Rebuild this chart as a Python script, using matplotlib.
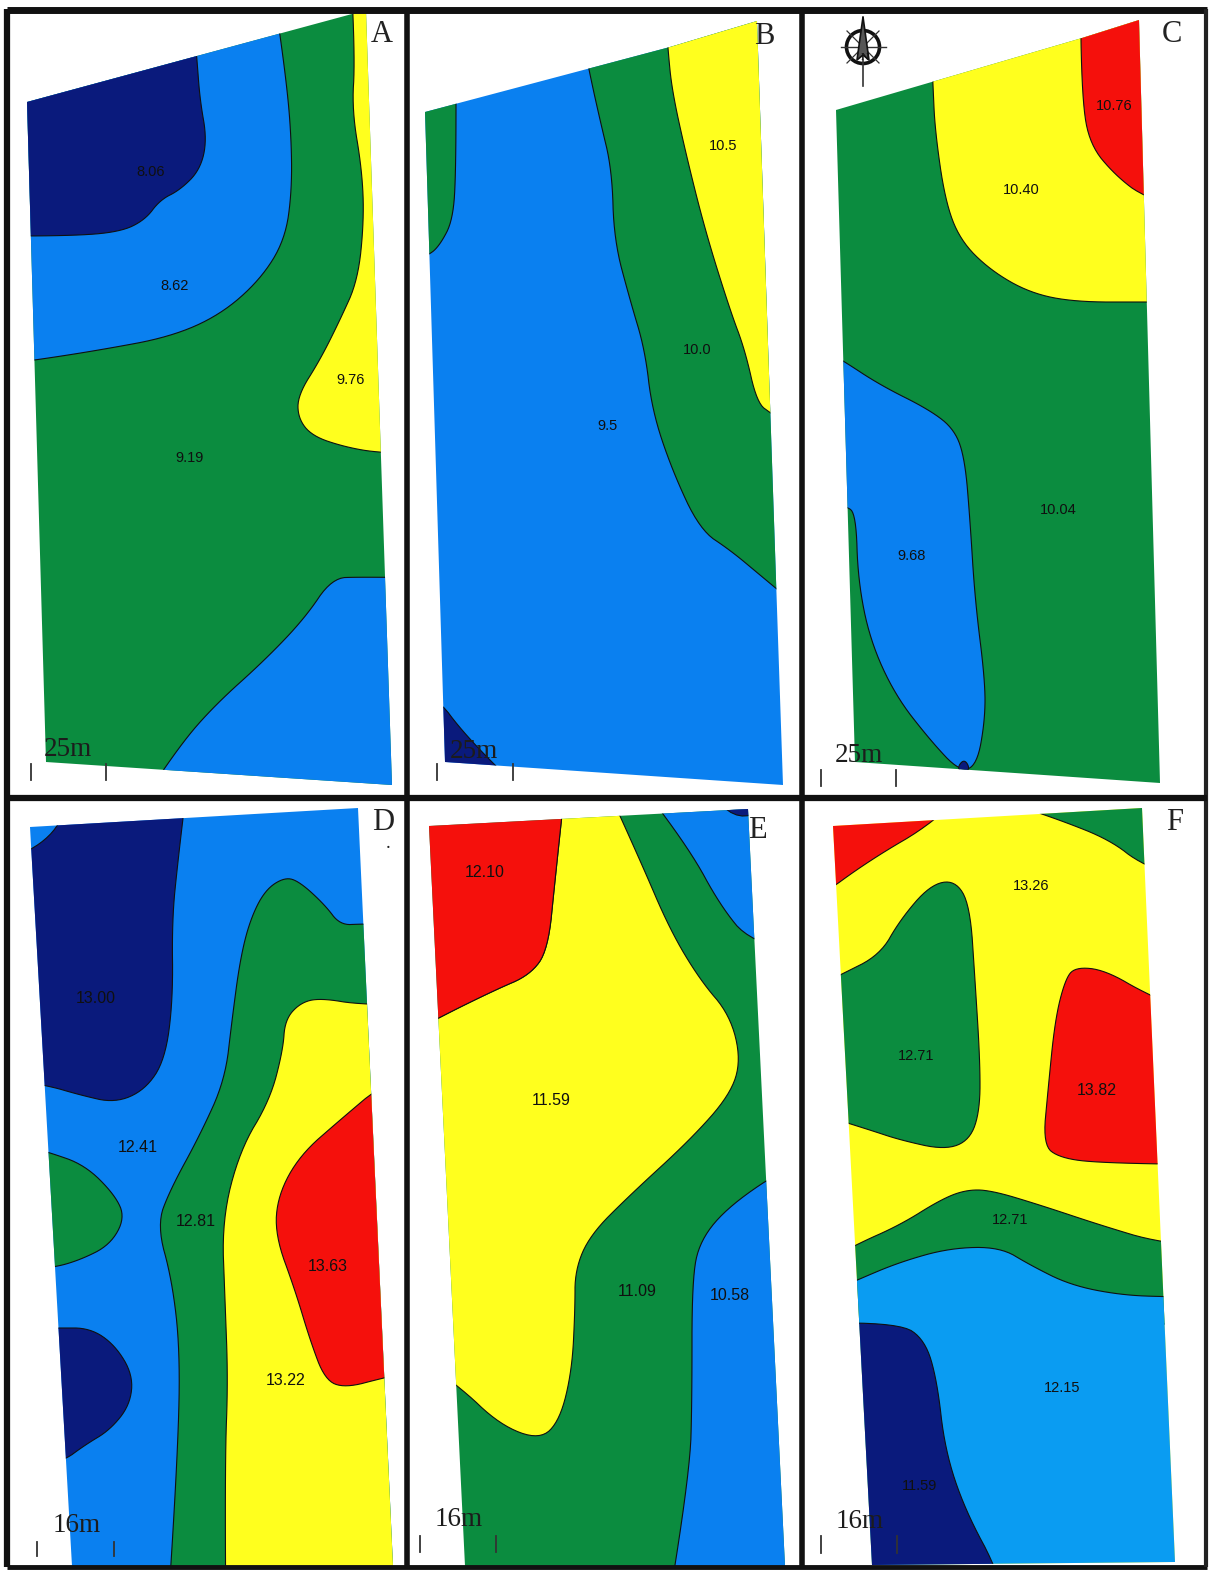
import numpy as np
import matplotlib
matplotlib.use('Agg')
import matplotlib.pyplot as plt
from matplotlib.patches import Polygon, Circle

YEL = '#FFFF1E'
GRN = '#0B8C3F'
BLU = '#0A80F0'
LBL = '#0A9CF2'
NAV = '#0A1A7C'
RED = '#F5100C'

# outlines of the six plots (picture pixels)
out_a = [(27,102),(352,14),(366,11),(392,785),(46,762)]
out_b = [(425,112),(670,47),(757,21),(783,785),(445,762)]
out_c = [(836,110),(1082,38),(1139,20),(1160,783),(855,762)]
out_d = [(30,827),(358,808),(393,1566),(72,1566)]
out_e = [(429,826),(748,809),(785,1566),(465,1566)]
out_f = [(833,826),(1142,808),(1175,1562),(872,1565)]

# zones of panel A
a_navy = [(192,0),(197,60),(200,100),(207,140),(200,170),(180,190),(160,200),(145,220),(120,232),(70,236),(-40,236),(-40,0)]
a_blue = [(272,-20),(285,70),(291,130),(292,190),(285,240),(260,280),(220,315),(170,337),(100,350),(36,360),(-40,370),(-40,-20)]
a_yel = [(350,-50),(355,60),(352,110),(362,170),(364,220),(358,280),(340,320),(320,360),(298,395),(298,418),(312,436),(345,447),(380,453),(460,455),(460,-50)]
a_blue2 = [(130,820),(180,745),(215,705),(265,660),(305,618),(332,578),(360,577),(450,578),(480,880),(130,880)]

# zones of panel B
b_grn1 = [(456,40),(456,170),(453,220),(440,245),(428,256),(380,275),(380,40)]
b_grn2 = [(575,0),(590,75),(600,120),(612,170),(614,240),(630,300),(645,350),(652,410),(672,470),(700,530),(730,550),(760,575),(850,650),(850,0)]
b_yel = [(662,-30),(668,50),(672,90),(685,150),(705,230),(730,310),(745,350),(757,403),(772,414),(850,470),(850,-30)]
b_navy = [(435,695),(465,735),(520,790),(400,800),(400,695)]

# zones of panel C
c_yel = [(929,0),(933,85),(935,130),(945,200),(960,240),(990,270),(1030,293),(1075,302),(1145,302),(1240,302),(1240,0)]
c_red = [(1080,-20),(1082,100),(1090,145),(1115,175),(1145,198),(1240,230),(1240,-20)]
c_blue = [(800,335),(842,360),(880,385),(930,410),(955,430),(965,460),(970,520),(975,600),(985,680),(985,720),(977,765),(960,772),(930,740),(895,695),(870,640),(858,580),(856,515),(846,505),(800,505)]
c_navy = [(957,768),(964,759),(970,768),(964,775)]

# zones of panel D
d_navy1 = [(190,760),(178,860),(172,920),(173,1000),(165,1060),(145,1090),(115,1103),(80,1095),(46,1085),(-20,1075),(-20,865),(32,852),(65,820),(75,760)]
d_grn1 = [(460,922),(362,924),(340,925),(325,905),(300,882),(285,877),(265,890),(250,920),(240,960),(232,1020),(225,1080),(200,1135),(170,1190),(157,1225),(172,1280),(180,1350),(178,1450),(165,1660),(480,1660)]
d_yel = [(226,1660),(225,1460),(228,1380),(225,1300),(222,1220),(240,1150),(270,1100),(283,1050),(285,1020),(300,1003),(320,998),(362,1005),(470,1005),(490,1660)]
d_red = [(385,1082),(340,1120),(300,1155),(278,1195),(275,1235),(295,1290),(310,1340),(325,1380),(345,1388),(383,1378),(460,1360),(460,1060)]
d_grn2 = [(5,1140),(48,1152),(85,1165),(115,1195),(125,1218),(110,1245),(80,1260),(52,1268),(0,1272)]
d_navy2 = [(0,1328),(58,1328),(90,1328),(115,1345),(133,1375),(130,1405),(110,1430),(85,1445),(62,1462),(0,1480)]

# zones of panel E
e_yel = [(570,740),(555,880),(548,950),(530,975),(495,990),(438,1018),(360,1060),(380,1330),(458,1385),(500,1425),(540,1440),(560,1420),(572,1370),(575,1310),(575,1270),(590,1235),(630,1195),(690,1140),(730,1095),(741,1060),(730,1015),(700,980),(670,930),(640,860),(590,750)]
e_red = [(570,740),(555,880),(548,950),(530,975),(495,990),(438,1018),(360,1060),(350,740)]
e_blue1 = [(630,770),(690,850),(720,905),(750,942),(830,960),(830,770)]
e_navy = [(700,785),(745,827),(790,780)]
e_blue2 = [(790,1165),(730,1205),(700,1240),(692,1280),(692,1400),(690,1470),(660,1660),(860,1660),(860,1165)]

# zones of panel F
f_red1 = [(815,900),(870,860),(935,822),(985,770),(780,770),(780,910)]
f_grn1 = [(1000,800),(1060,820),(1110,840),(1142,865),(1210,890),(1210,770),(1000,770)]
f_grn2 = [(790,1000),(840,975),(880,955),(900,920),(930,885),(955,880),(970,905),(975,980),(980,1060),(980,1110),(970,1140),(945,1150),(900,1140),(870,1130),(790,1105)]
f_red2 = [(1075,967),(1105,970),(1148,995),(1230,1030),(1230,1165),(1100,1163),(1060,1158),(1043,1145),(1048,1090),(1055,1020),(1065,980)]
f_grn3 = [(800,1275),(855,1245),(900,1225),(940,1200),(965,1190),(990,1190),(1040,1205),(1100,1225),(1160,1243),(1250,1250),(1250,1330),(800,1330)]
f_lblue = [(790,1310),(857,1280),(900,1262),(950,1248),(1000,1247),(1030,1265),(1070,1285),(1120,1295),(1170,1297),(1270,1297),(1300,1680),(790,1680)]
f_navy = [(790,1323),(900,1323),(925,1340),(937,1380),(945,1450),(965,1510),(1000,1575),(1030,1680),(790,1680)]

# colour of each panel's background, then zones in drawing order
panels = [
    (out_a, GRN, [(a_blue, BLU), (a_navy, NAV), (a_yel, YEL), (a_blue2, BLU)]),
    (out_b, BLU, [(b_grn1, GRN), (b_grn2, GRN), (b_yel, YEL), (b_navy, NAV)]),
    (out_c, GRN, [(c_yel, YEL), (c_red, RED), (c_blue, BLU), (c_navy, NAV)]),
    (out_d, BLU, [(d_navy1, NAV), (d_grn1, GRN), (d_yel, YEL), (d_red, RED), (d_grn2, GRN), (d_navy2, NAV)]),
    (out_e, GRN, [(e_yel, YEL), (e_red, RED), (e_blue1, BLU), (e_navy, NAV), (e_blue2, BLU)]),
    (out_f, YEL, [(f_red1, RED), (f_grn1, GRN), (f_grn2, GRN), (f_red2, RED), (f_grn3, GRN), (f_lblue, LBL), (f_navy, NAV)]),
]

letters = ['A', 'B', 'C', 'D', 'E', 'F']
letter_x = [382, 764, 1172, 383, 757, 1175]
letter_y = [35, 36, 34, 823, 831, 823]

value_txt = ['8.06','8.62','9.76','9.19','10.5','10.0','9.5','10.76','10.40','10.04','9.68',
             '13.00','12.41','12.81','13.63','13.22','12.10','11.59','11.09','10.58',
             '13.26','12.71','13.82','12.71','12.15','11.59']
value_x = [151,175,351,190,723,697,607,1114,1021,1058,912,96,138,196,328,286,485,551,637,730,1031,916,1097,1010,1062,920]
value_y = [170,285,378,456,144,348,424,105,188,508,554,997,1146,1220,1265,1379,871,1099,1290,1294,884,1054,1089,1218,1386,1484]
value_fs = [10.5,10.5,10.5,10.5,10.5,10.5,10.5,10.5,10.5,10.5,10.5,11.5,11.5,11.5,11.5,11.5,11.5,11.5,11.5,11.5,10.5,10.5,11.5,10.5,10.5,10.5]

scale_txt = ['25m', '25m', '25m', '16m', '16m', '16m']
scale_x = [68, 474, 859, 77, 459, 860]
scale_y = [750, 751, 756, 1526, 1519, 1521]
tick_a = [31, 437, 821, 37, 420, 821]
tick_b = [106, 513, 896, 114, 496, 897]
tick_y0 = [764, 764, 770, 1542, 1536, 1536]
tick_y1 = [780, 780, 786, 1556, 1552, 1553]


def smooth(pts, n=3):
    # coupe les coins pour avoir des contours arrondis
    p = np.array(pts, dtype=float)
    for i in range(n):
        q = np.roll(p, -1, axis=0)
        p = np.column_stack([0.75*p + 0.25*q, 0.25*p + 0.75*q]).reshape(-1, 2)
    return p


fig = plt.figure(figsize=(12.17, 15.70), dpi=100)
ax = fig.add_axes([0, 0, 1, 1])
ax.set_xlim(0, 1217)
ax.set_ylim(1570, 0)
ax.axis('off')

for outline, base, zones in panels:
    clip = Polygon(outline, closed=True, fc=base, ec='none', zorder=1)
    ax.add_patch(clip)
    for k, (pts, col) in enumerate(zones):
        z = Polygon(smooth(pts), closed=True, fc=col, ec='#101010', lw=0.8, zorder=2+k*0.01)
        ax.add_patch(z)
        z.set_clip_path(clip)

# cadres noirs
ax.plot([7, 1207], [10, 10], color='#111111', lw=5, zorder=5, solid_capstyle='butt')
ax.plot([7, 1207], [1567, 1567], color='#111111', lw=3.5, zorder=5, solid_capstyle='butt')
ax.plot([1206, 1206], [9, 1567], color='#222222', lw=3, zorder=5, solid_capstyle='butt')
ax.plot([7, 7], [9, 1567], color='#111111', lw=4.5, zorder=5, solid_capstyle='butt')
ax.plot([407, 407], [9, 1567], color='#111111', lw=4, zorder=5, solid_capstyle='butt')
ax.plot([802, 802], [9, 1567], color='#111111', lw=4, zorder=5, solid_capstyle='butt')
ax.plot([7, 1207], [798, 798], color='#111111', lw=4.5, zorder=5, solid_capstyle='butt')

for i in range(6):
    ax.text(letter_x[i], letter_y[i], letters[i], family='Liberation Serif', fontsize=22,
            ha='center', va='center', color='#222222', zorder=6)
    ax.text(scale_x[i], scale_y[i], scale_txt[i], family='Liberation Serif', fontsize=19.5,
            ha='center', va='center', color='#1c1c1c', zorder=6)
    ax.plot([tick_a[i], tick_a[i]], [tick_y0[i], tick_y1[i]], color='#333333', lw=1.3, zorder=6)
    ax.plot([tick_b[i], tick_b[i]], [tick_y0[i], tick_y1[i]], color='#333333', lw=1.3, zorder=6)

for t, x, y, fs in zip(value_txt, value_x, value_y, value_fs):
    ax.text(x, y, t, family='Liberation Sans', fontsize=fs, ha='center', va='center_baseline',
            color='#101010', zorder=6)

# fleche du nord
ax.add_patch(Circle((863, 47), 16.5, fc='none', ec='#111111', lw=2.6, zorder=6))
ax.plot([863, 863], [17, 86], color='#333333', lw=1.2, zorder=6)
ax.plot([841, 886], [47, 47], color='#333333', lw=1.0, zorder=6)
ax.plot([847, 879], [31, 63], color='#333333', lw=0.9, zorder=6)
ax.plot([847, 879], [63, 31], color='#333333', lw=0.9, zorder=6)
ax.add_patch(Polygon([(863, 17), (857, 60), (863, 55), (869, 60)], closed=True, fc='#555555', ec='#111111', lw=1.2, zorder=6))
ax.text(865, 57, 'N', family='Liberation Serif', fontsize=8, ha='center', va='center', color='#111111', zorder=7)
ax.text(388, 848, '.', family='Liberation Serif', fontsize=14, ha='center', va='baseline', color='#222222', zorder=6)

fig.savefig('out.png', dpi=100)
